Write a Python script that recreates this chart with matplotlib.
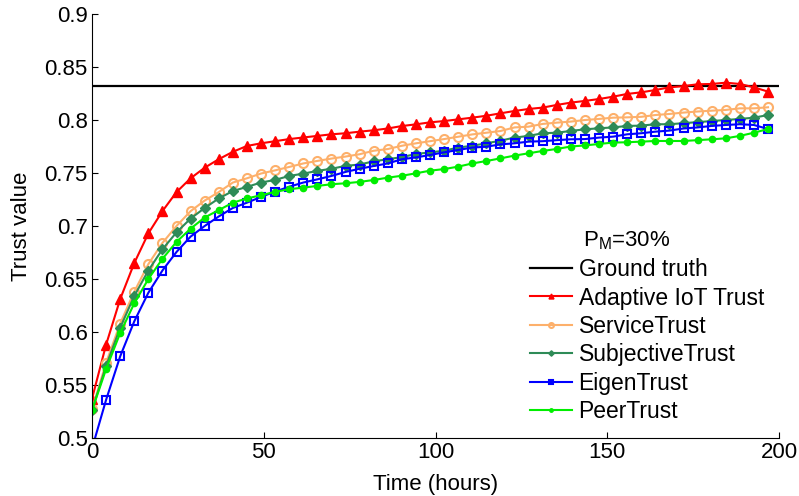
import numpy as np
import matplotlib
matplotlib.use("Agg")
import matplotlib.pyplot as plt

plt.rcParams['font.family'] = ['Liberation Sans', 'DejaVu Sans']

# sample times (hours), 49 points
hours = np.arange(49) * 4.1

ground_truth = 0.832

adaptive = [0.537, 0.588, 0.631, 0.665, 0.693, 0.714, 0.732, 0.745, 0.755, 0.763,
            0.770, 0.7755, 0.778, 0.780, 0.782, 0.7835, 0.785, 0.7865, 0.7875, 0.789,
            0.7903, 0.792, 0.7943, 0.7959, 0.7978, 0.799, 0.8006, 0.8022, 0.804, 0.8063,
            0.8085, 0.8104, 0.8117, 0.8142, 0.8164, 0.818, 0.8198, 0.822, 0.8246, 0.8261,
            0.8283, 0.8308, 0.832, 0.8337, 0.834, 0.8352, 0.834, 0.8308, 0.8268]
service = [0.527, 0.571, 0.608, 0.638, 0.664, 0.684, 0.700, 0.714, 0.724, 0.732,
           0.741, 0.745, 0.7495, 0.7525, 0.7557, 0.759, 0.7614, 0.7636, 0.7655, 0.7677,
           0.771, 0.7726, 0.7757, 0.778, 0.780, 0.782, 0.7842, 0.7864, 0.788, 0.7896,
           0.793, 0.7937, 0.7963, 0.7975, 0.7985, 0.800, 0.801, 0.8022, 0.8025, 0.803,
           0.8047, 0.8057, 0.807, 0.808, 0.8088, 0.8095, 0.811, 0.811, 0.812]
subjective = [0.526, 0.568, 0.604, 0.634, 0.658, 0.678, 0.694, 0.707, 0.717, 0.726,
              0.733, 0.7369, 0.741, 0.7435, 0.7472, 0.7494, 0.752, 0.754, 0.7567, 0.758,
              0.761, 0.763, 0.765, 0.7679, 0.7695, 0.771, 0.774, 0.7757, 0.778, 0.7805,
              0.7834, 0.785, 0.7875, 0.788, 0.7897, 0.7912, 0.7922, 0.793, 0.7944, 0.7947,
              0.796, 0.796, 0.797, 0.798, 0.799, 0.800, 0.801, 0.8022, 0.8047]
eigen = [0.490, 0.536, 0.577, 0.610, 0.637, 0.658, 0.6755, 0.690, 0.700, 0.709,
         0.717, 0.722, 0.7274, 0.7325, 0.737, 0.741, 0.744, 0.7472, 0.751, 0.754,
         0.7566, 0.759, 0.763, 0.7647, 0.767, 0.7695, 0.7717, 0.774, 0.7748, 0.777,
         0.778, 0.7796, 0.780, 0.781, 0.7818, 0.782, 0.7834, 0.7843, 0.7865, 0.7875,
         0.789, 0.790, 0.792, 0.793, 0.7944, 0.7953, 0.796, 0.7953, 0.7915]
peer = [0.526, 0.565, 0.599, 0.627, 0.650, 0.669, 0.685, 0.6975, 0.708, 0.715,
        0.722, 0.726, 0.729, 0.7322, 0.7347, 0.7362, 0.7378, 0.7394, 0.7403, 0.7416,
        0.7434, 0.7456, 0.7474, 0.7497, 0.7522, 0.7537, 0.756, 0.759, 0.7613, 0.7638,
        0.7664, 0.7686, 0.7708, 0.7727, 0.775, 0.776, 0.7774, 0.7787, 0.779, 0.7796,
        0.7802, 0.7802, 0.7802, 0.781, 0.7818, 0.7827, 0.785, 0.788, 0.7915]

fig = plt.figure(figsize=(7.99, 4.96), dpi=100)
ax = fig.add_axes([92 / 799, 58 / 496, 687 / 799, 424 / 496])

ax.axhline(ground_truth, color='black', lw=1.6, label='Ground truth')
ax.plot(hours, adaptive, color='red', lw=1.5, marker='^', ms=6.5,
        mfc='red', mec='red', label='Adaptive IoT Trust')
ax.plot(hours, service, color='#fdb06b', lw=1.5, marker='o', ms=6.5,
        mfc='none', mec='#fdb06b', mew=1.5, label='ServiceTrust')
ax.plot(hours, subjective, color='#2e8b57', lw=1.5, marker='D', ms=5,
        mfc='#2e8b57', mec='#2e8b57', label='SubjectiveTrust')
ax.plot(hours, eigen, color='blue', lw=1.5, marker='s', ms=6,
        mfc='none', mec='blue', mew=1.5, label='EigenTrust')
ax.plot(hours, peer, color='#00ee00', lw=1.5, marker='o', ms=4.5,
        mfc='#00ee00', mec='#00ee00', label='PeerTrust')

ax.set_xlim(0, 200)
ax.set_ylim(0.5, 0.9)
ax.set_xticks([0, 50, 100, 150, 200])
ax.set_yticks(np.arange(0.5, 0.901, 0.05))
ax.set_yticklabels(['0.5', '0.55', '0.6', '0.65', '0.7', '0.75', '0.8', '0.85', '0.9'])
ax.spines['top'].set_visible(False)
ax.spines['right'].set_visible(False)
ax.tick_params(direction='in', length=4, labelsize=16, width=0.8, pad=3)
ax.set_xlabel('Time (hours)', fontsize=16, labelpad=8)
ax.set_ylabel('Trust value', fontsize=16, labelpad=9)

leg = ax.legend(loc='upper left', bbox_to_anchor=(530 / 799, 1 - 258 / 496),
                bbox_transform=fig.transFigure, frameon=False,
                fontsize=16.5, handlelength=1.85, handletextpad=0.27,
                labelspacing=0.24, markerscale=0.55, borderaxespad=0, borderpad=0)
fig.text(583 / 799, 1 - 246 / 496, 'P$_\\mathregular{M}$=30%', fontsize=16)

fig.savefig('out.png', dpi=100)
